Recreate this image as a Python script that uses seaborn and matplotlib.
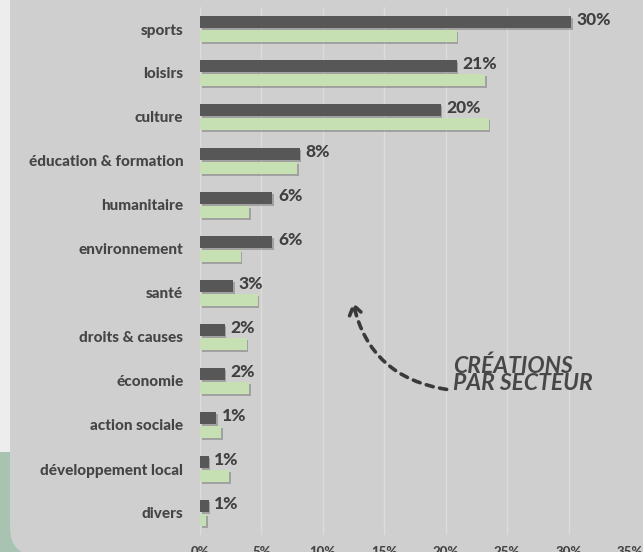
import matplotlib
matplotlib.use("Agg")
import matplotlib.pyplot as plt
import matplotlib.patheffects as pe
from matplotlib.patches import FancyBboxPatch, Rectangle
import seaborn as sns
import pandas as pd

categories = ["sports", "loisirs", "culture", "éducation & formation", "humanitaire",
              "environnement", "santé", "droits & causes", "économie", "action sociale",
              "développement local", "divers"]
creations = [30.2, 20.9, 19.6, 8.1, 5.9, 5.9, 2.7, 2.0, 2.0, 1.3, 0.7, 0.7]
creation_labels = ["30%", "21%", "20%", "8%", "6%", "6%", "3%", "2%", "2%", "1%", "1%", "1%"]
ensemble = [20.9, 23.2, 23.5, 7.9, 4.0, 3.3, 4.7, 3.8, 4.0, 1.7, 2.4, 0.5]
x_ticks = [0, 5, 10, 15, 20, 25, 30, 35]
x_tick_labels = ["0%", "5%", "10%", "15%", "20%", "25%", "30%", "35%"]

df = pd.DataFrame({
    "secteur": categories * 2,
    "part": creations + ensemble,
    "serie": ["créations"] * len(categories) + ["ensemble"] * len(categories),
})

sns.set_theme(style="white")
plt.rcParams["font.family"] = ["Lato", "DejaVu Sans"]

W, H = 643, 552
fig = plt.figure(figsize=(W / 100, H / 100), dpi=100)
fig.patch.set_facecolor("#ededed")
# green area bottom-left
fig.add_artist(Rectangle((0, 0), 1, (H - 452) / H, transform=fig.transFigure,
                         facecolor="#a9c3b3", edgecolor="none", zorder=-3))
# rounded gray panel
fig.add_artist(FancyBboxPatch((10 / W, -4 / H), 1.2, 1.2, transform=fig.transFigure,
                              boxstyle="round,pad=0,rounding_size=0.045",
                              facecolor="#cfcfcf", edgecolor="none", zorder=-2,
                              mutation_aspect=W / H))

ax = fig.add_axes([200 / W, (H - 535) / H, 430 / W, 528 / H])
ax.set_facecolor("none")
ax.set_zorder(1)

palette = {"créations": "#575757", "ensemble": "#c6e0b4"}
sns.barplot(data=df, y="secteur", x="part", hue="serie", order=categories,
            palette=palette, width=0.64, gap=0.1, orient="h", ax=ax,
            saturation=1, legend=False, edgecolor="none", zorder=3)

shadow = [pe.SimplePatchShadow(offset=(1.2, -1.5), shadow_rgbFace="#000000", alpha=0.22),
          pe.Normal()]
for p in ax.patches:
    p.set_path_effects(shadow)

ax.set_xlim(0, 35)
ax.set_ylim(len(categories) - 0.5, -0.5)
ax.set_xticks(x_ticks)
ax.set_xticklabels(x_tick_labels)
ax.xaxis.grid(True, color="#dcdcdc", linewidth=1, zorder=0)
ax.yaxis.grid(False)
ax.set_axisbelow(True)
for s in ax.spines.values():
    s.set_visible(False)
ax.set_xlabel("")
ax.set_ylabel("")
ax.tick_params(axis="y", length=0, pad=12, labelsize=11, labelcolor="#454545")
ax.tick_params(axis="x", length=0, pad=8, labelsize=9.5, labelcolor="#454545")
for t in ax.get_yticklabels() + ax.get_xticklabels():
    t.set_fontweight(900)

for i, (v, lab) in enumerate(zip(creations, creation_labels)):
    ax.text(v + 0.45, i - 0.2, lab, ha="left", va="center", fontsize=12.5,
            fontweight=900, color="#404040")

ax.text(20.6, 7.85, "CRÉATIONS\nPAR SECTEUR", ha="left", va="center", fontsize=16.5,
        style="italic", fontweight="bold", color="#474747", linespacing=0.78)
ax.annotate("", xy=(12.4, 6.15), xytext=(20.3, 8.2),
            arrowprops=dict(arrowstyle="->,head_length=0.55,head_width=0.38", color="#3a3a3a",
                            lw=2.6, linestyle=(0, (2, 1.8)),
                            connectionstyle="arc3,rad=-0.35"))

fig.savefig("out.png", dpi=100, facecolor=fig.get_facecolor())
